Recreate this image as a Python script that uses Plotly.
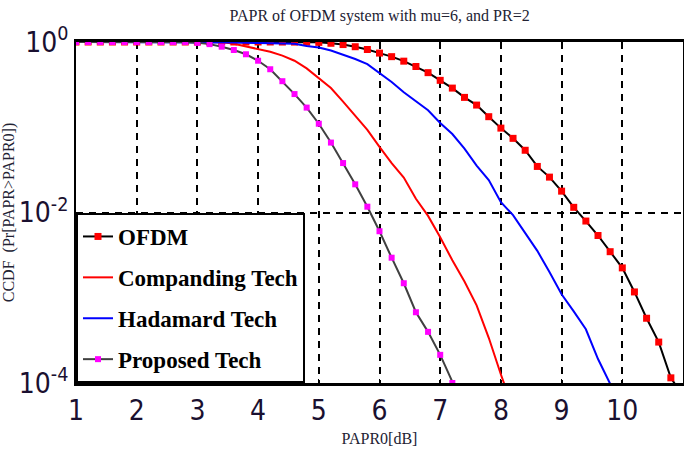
import plotly.graph_objects as go

# ---- data ----
x_ofdm = [1.0, 1.2, 1.4, 1.6, 1.8, 2.0, 2.2, 2.4, 2.6, 2.8, 3.0, 3.2, 3.4, 3.6, 3.8,
          4.0, 4.2, 4.4, 4.6, 4.8, 5.0, 5.2, 5.4, 5.6, 5.8, 6.0, 6.2, 6.4, 6.6, 6.8,
          7.0, 7.2, 7.4, 7.6, 7.8, 8.0, 8.2, 8.4, 8.6, 8.8, 9.0, 9.2, 9.4, 9.6, 9.8,
          10.0, 10.2, 10.4, 10.6, 10.8, 11.0]
y_ofdm = [1.0, 1.0, 1.0, 1.0, 1.0, 1.0, 1.0, 1.0, 1.0, 1.0, 1.0, 1.0, 1.0, 1.0, 1.0,
          1.0, 1.0, 0.999, 0.998, 0.995, 0.99, 0.966, 0.933, 0.88, 0.817, 0.741, 0.673,
          0.596, 0.516, 0.437, 0.355, 0.288, 0.224, 0.182, 0.133, 0.0977, 0.0741,
          0.0537, 0.0347, 0.026, 0.0178, 0.0115, 0.00794, 0.00537, 0.00347, 0.00224,
          0.00117, 0.000575, 0.000302, 0.000115, 0.00007]

x_comp = [1.0, 1.5, 2.0, 2.5, 3.0, 3.4, 3.6, 3.8, 4.0, 4.2, 4.4, 4.6, 4.8, 5.0, 5.2,
          5.4, 5.6, 5.8, 6.0, 6.2, 6.4, 6.6, 6.8, 7.0, 7.2, 7.4, 7.6, 7.8, 8.0, 8.1]
y_comp = [1.0, 1.0, 1.0, 1.0, 1.0, 0.998, 0.955, 0.891, 0.832, 0.767, 0.692, 0.603,
          0.490, 0.380, 0.288, 0.200, 0.135, 0.0933, 0.0589, 0.0380, 0.0257, 0.0145,
          0.00912, 0.00513, 0.00275, 0.00155, 0.000813, 0.000339, 0.000126, 0.0000794]

x_hada = [1.0, 2.0, 3.0, 3.6, 4.0, 4.4, 4.6, 4.8, 5.0, 5.2, 5.4, 5.6, 5.8, 6.0, 6.2,
          6.4, 6.6, 6.8, 7.0, 7.2, 7.4, 7.6, 7.8, 8.0, 8.2, 8.4, 8.6, 8.8, 9.0, 9.2,
          9.4, 9.6, 9.8, 9.9]
y_hada = [1.0, 1.0, 1.0, 0.985, 0.975, 0.965, 0.955, 0.90, 0.861, 0.794, 0.708, 0.631,
          0.550, 0.437, 0.339, 0.257, 0.200, 0.158, 0.112, 0.0832, 0.0562, 0.0355,
          0.0240, 0.0132, 0.00933, 0.00575, 0.00355, 0.00200, 0.00110, 0.000692,
          0.000427, 0.000191, 0.0001, 0.00007]

x_prop = [1.0, 1.2, 1.4, 1.6, 1.8, 2.0, 2.2, 2.4, 2.6, 2.8, 3.0, 3.2, 3.4, 3.6, 3.8,
          4.0, 4.2, 4.4, 4.6, 4.8, 5.0, 5.2, 5.4, 5.6, 5.8, 6.0, 6.2, 6.4, 6.6, 6.8,
          7.0, 7.2, 7.4]
y_prop = [1.0, 1.0, 1.0, 1.0, 1.0, 1.0, 1.0, 1.0, 1.0, 1.0, 0.977, 0.944, 0.881,
          0.805, 0.718, 0.603, 0.479, 0.347, 0.245, 0.170, 0.110, 0.0661, 0.0380,
          0.0214, 0.0117, 0.00603, 0.00295, 0.00148, 0.000676, 0.000398, 0.000214,
          0.0001, 0.00005]

names = ["OFDM", "Companding Tech", "Hadamard Tech", "Proposed Tech"]
x_ticks = [1, 2, 3, 4, 5, 6, 7, 8, 9, 10, 11]
y_tickvals = [1, 0.01, 0.0001]
y_ticktext = ["10<sup>0</sup>", "10<sup>-2</sup>", "10<sup>-4</sup>"]

title_text = "PAPR of OFDM system with mu=6, and PR=2"
x_title = "PAPR0[dB]"
y_title = "CCDF  (Pr[PAPR>PAPR0])"

fig = go.Figure()
fig.add_trace(go.Scatter(x=x_ofdm, y=y_ofdm, name=names[0], mode="lines+markers",
                         line=dict(color="black", width=2),
                         marker=dict(symbol="square", size=7, color="red"),
                         legendgroup="a"))
fig.add_trace(go.Scatter(x=x_comp, y=y_comp, name=names[1], mode="lines",
                         line=dict(color="red", width=2), legendgroup="b"))
fig.add_trace(go.Scatter(x=x_hada, y=y_hada, name=names[2], mode="lines",
                         line=dict(color="blue", width=2), legendgroup="c"))
fig.add_trace(go.Scatter(x=x_prop, y=y_prop, name=names[3], mode="lines+markers",
                         line=dict(color="#404040", width=2),
                         marker=dict(symbol="square", size=6, color="#ff00ff"),
                         legendgroup="d"))

axis_font = dict(family="DejaVu Sans Condensed, Liberation Sans Narrow, sans-serif",
                 size=28, color="#1a1030")
label_font = dict(family="Liberation Serif", size=16, color="#222233")

fig.update_layout(
    width=684, height=455,
    margin=dict(l=76, r=1, t=42, b=72),
    paper_bgcolor="white", plot_bgcolor="white",
    title=dict(text=title_text, x=0.555, xref="container", y=1 - 15 / 455,
               yref="container", xanchor="center", yanchor="middle",
               font=dict(family="Liberation Serif", size=16, color="#222233")),
    showlegend=True,
    legend=dict(x=0, y=0, xref="paper", yref="paper", xanchor="left", yanchor="bottom",
                bgcolor="white", bordercolor="black", borderwidth=2,
                font=dict(family="Liberation Serif", size=23, color="black", weight="bold"),
                traceorder="grouped", tracegroupgap=8),
    xaxis=dict(type="linear", range=[1, 11], tickvals=x_ticks, automargin=False,
               showline=True, mirror=True, linecolor="black", linewidth=3,
               ticks="inside", ticklen=4, tickcolor="black",
               showgrid=True, gridcolor="black", gridwidth=2, griddash="7px,6px",
               zeroline=False, tickfont=axis_font,
               title=dict(text=x_title, standoff=8, font=label_font)),
    yaxis=dict(type="log", range=[-4, 0], tickvals=y_tickvals, ticktext=y_ticktext,
               automargin=False,
               showline=True, mirror=True, linecolor="black", linewidth=2,
               ticks="inside", ticklen=4, tickcolor="black",
               showgrid=True, gridcolor="black", gridwidth=2, griddash="7px,6px",
               zeroline=False, tickfont=axis_font,
               title=dict(text=y_title, standoff=12, font=label_font)),
)

fig.write_html("out.html", config={"displayModeBar": False},
               post_script="document.body.style.margin='0';")
